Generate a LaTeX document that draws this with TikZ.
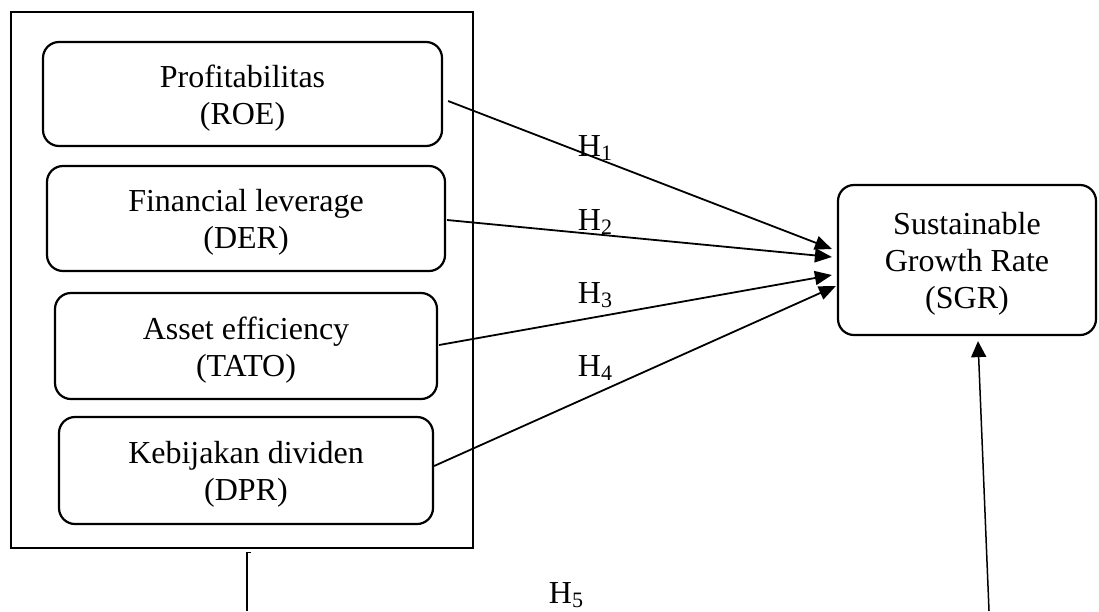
\documentclass[tikz,border=0pt]{standalone}
\usepackage{fontspec}
\setmainfont{Liberation Serif}
\usetikzlibrary{arrows.meta,calc}
\newcommand{\hsub}[1]{H\raisebox{-3.5pt}{\fontsize{22}{22}\selectfont #1}}
\begin{document}
\begin{tikzpicture}[x=1pt,y=-1pt,
  every node/.style={font=\fontsize{32}{37}\selectfont},
  varbox/.style={draw,line width=2.2pt,rounded corners=16pt,inner sep=0pt},
  boxtext/.style={align=center,inner sep=0pt},
  outerbox/.style={draw,line width=2.8pt,inner sep=0pt},
  hyp/.style={-{Triangle[length=17pt,width=14pt]},line width=1.8pt},
  hlab/.style={inner sep=0pt},
  thinline/.style={line width=1.5pt}]
\useasboundingbox (0,0) rectangle (1099,611);
\node[outerbox,minimum width=462pt,minimum height=536pt] (outer) at (242,280) {};
\node[varbox,minimum width=399pt,minimum height=104pt] (roe) at (242.5,94) {};
\node[varbox,minimum width=398pt,minimum height=105pt] (der) at (246,218.5) {};
\node[varbox,minimum width=382pt,minimum height=106pt] (tato) at (246,346) {};
\node[varbox,minimum width=374pt,minimum height=107pt] (dpr) at (246,470.5) {};
\node[varbox,minimum width=258pt,minimum height=150pt] (sgr) at (967,260) {};
\node[boxtext] (roet) at ($(roe)+(0,4)$) {Profitabilitas\\(ROE)};
\node[boxtext] (dert) at ($(der)+(0,4)$) {Financial leverage\\(DER)};
\node[boxtext] (tatot) at ($(tato)+(0,4)$) {Asset efficiency\\(TATO)};
\node[boxtext] (dprt) at ($(dpr)+(0,4)$) {Kebijakan dividen\\(DPR)};
\node[boxtext] (sgrt) at ($(sgr)+(0,4)$) {Sustainable\\Growth Rate\\(SGR)};
\draw[hyp] ($(roe.east)+(5,7)$) -- ($(sgr.west)+(-5,-11)$);
\draw[hyp] ($(der.east)+(1,1.5)$) -- ($(sgr.west)+(-5,-3)$);
\draw[hyp] ($(tato.east)+(1,-1)$) -- ($(sgr.west)+(-5,15)$);
\draw[hyp] ($(dpr.east)+(0,-4.5)$) -- ($(sgr.west)+(-1,26)$);
\node[hlab] (h1) at (595,148) {\hsub{1}};
\node[hlab] (h2) at (595,222) {\hsub{2}};
\node[hlab] (h3) at (595,295) {\hsub{3}};
\node[hlab] (h4) at (595,368) {\hsub{4}};
\node[hlab] (h5) at (566,595) {\hsub{5}};
\coordinate (lb) at (247,611);
\coordinate (rb) at (989,611);
\draw[thinline] ($(outer.south)+(9,3)$) -- ($(outer.south)+(5,3)$) -- (lb);
\draw[-{Triangle[length=16pt,width=15pt]},thinline] (rb) -- ($(sgr.south)+(11,5)$);
\end{tikzpicture}
\end{document}
